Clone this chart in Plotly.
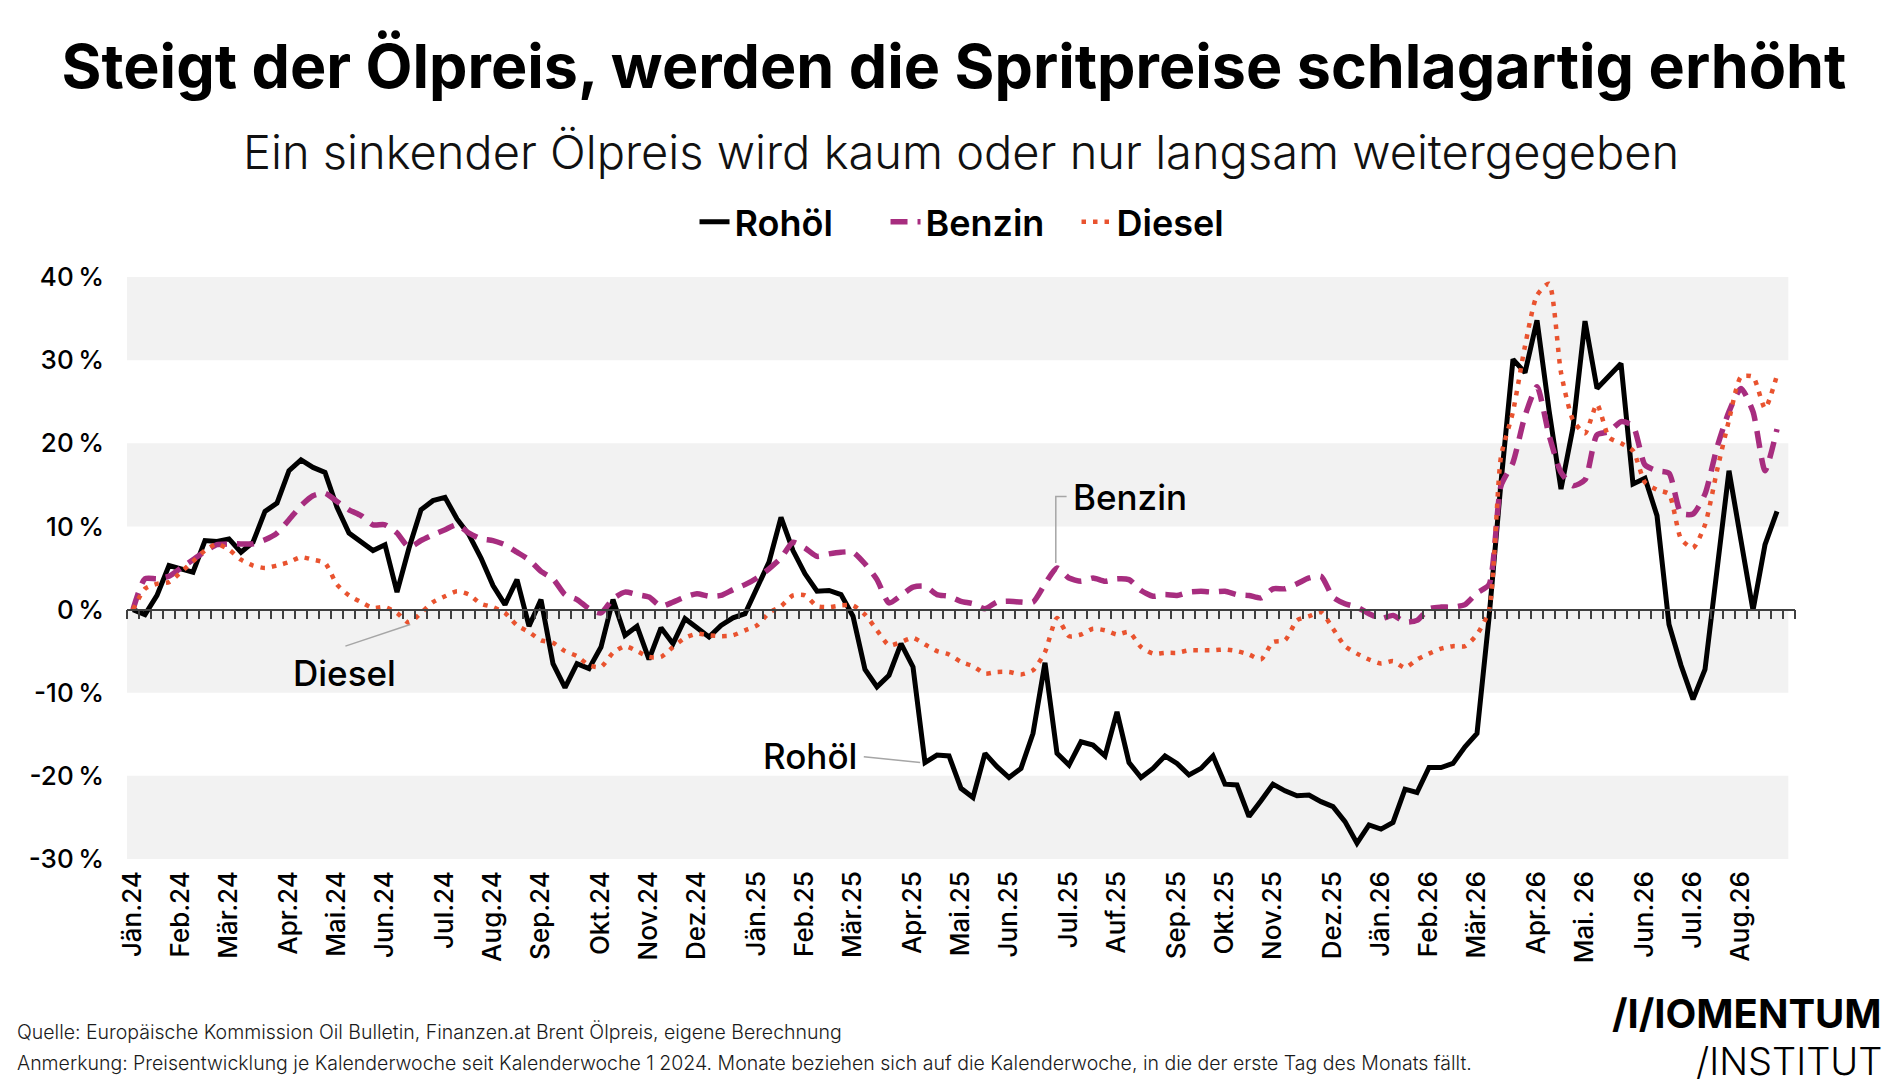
import datetime as dt
import plotly.graph_objects as go

# Preisentwicklung seit KW 1 2024 in Prozent (wöchentlich)
rohoel = [
    0.0, -0.6, 1.7, 5.3, 4.9, 4.5, 8.3, 8.2, 8.5, 6.9,
    8.1, 11.8, 12.8, 16.7, 18.0, 17.1, 16.5, 12.3, 9.2, 8.2,
    7.1, 7.8, 2.1, 7.4, 12.0, 13.1, 13.5, 10.9, 9.0, 6.2,
    2.9, 0.6, 3.6, -2.0, 1.2, -6.5, -9.4, -6.5, -7.1, -4.5,
    1.2, -3.1, -2.0, -6.0, -2.2, -4.1, -1.1, -2.2, -3.3, -1.9,
    -1.0, -0.5, 2.7, 5.7, 11.1, 7.1, 4.3, 2.2, 2.3, 1.8,
    -0.8, -7.2, -9.3, -7.9, -4.1, -6.9, -18.4, -17.5, -17.6, -21.5,
    -22.6, -17.3, -18.9, -20.2, -19.1, -14.9, -6.4, -17.3, -18.7, -15.9,
    -16.3, -17.6, -12.3, -18.4, -20.2, -19.1, -17.6, -18.5, -19.9, -19.1,
    -17.6, -21.0, -21.1, -24.9, -23.0, -21.0, -21.8, -22.4, -22.3, -23.1,
    -23.7, -25.5, -28.1, -25.9, -26.4, -25.6, -21.6, -22.0, -19.0, -19.0,
    -18.5, -16.5, -14.9, -1.0, 15.3, 30.1, 28.5, 34.8, 24.0, 14.5,
    21.9, 34.7, 26.6, 28.1, 29.6, 15.1, 15.8, 11.3, -1.8, -6.7,
    -10.8, -7.2, 4.5, 16.7, 8.3, -0.1, 7.8, 11.8,
]
benzin = [
    0.0, 3.7, 3.7, 4.0, 5.0, 6.0, 7.0, 7.8, 7.9, 7.9,
    7.9, 8.4, 9.2, 10.8, 12.5, 13.7, 14.0, 13.0, 12.0, 11.3,
    10.2, 10.2, 9.2, 7.5, 8.3, 9.0, 9.6, 10.2, 9.2, 8.5,
    8.3, 7.8, 6.9, 6.0, 4.6, 3.7, 1.8, 1.2, 0.1, -0.4,
    1.3, 2.1, 1.8, 1.5, 0.4, 0.9, 1.5, 1.9, 1.6, 1.7,
    2.4, 3.0, 3.8, 4.9, 6.2, 8.1, 7.4, 6.4, 6.7, 6.9,
    6.9, 5.5, 3.6, 0.8, 1.7, 2.7, 2.8, 1.8, 1.6, 1.0,
    0.7, 0.1, 0.9, 1.0, 0.9, 0.9, 3.1, 5.0, 3.8, 3.4,
    3.8, 3.4, 3.7, 3.6, 2.3, 1.6, 1.8, 1.7, 2.1, 2.2,
    2.1, 2.2, 1.8, 1.7, 1.4, 2.5, 2.5, 3.1, 3.8, 4.0,
    1.5, 0.7, 0.3, -0.5, -1.1, -0.7, -1.5, -1.3, 0.1, 0.3,
    0.3, 0.6, 2.0, 3.0, 14.9, 17.7, 23.3, 26.8, 21.0, 16.5,
    14.9, 15.6, 21.0, 21.4, 22.6, 22.1, 17.4, 16.7, 16.4, 11.6,
    11.5, 13.9, 19.5, 23.8, 26.6, 23.8, 16.7, 21.7,
]
diesel = [
    0.0, 2.5, 3.1, 3.3, 4.5, 5.8, 7.1, 7.9, 7.2, 6.0,
    5.3, 5.0, 5.3, 5.7, 6.3, 6.0, 5.6, 3.0, 1.7, 0.9,
    0.2, 0.3, -0.4, -1.6, -0.4, 0.9, 1.6, 2.2, 1.8, 0.7,
    0.3, -0.4, -1.9, -2.7, -3.7, -4.0, -5.0, -5.6, -6.7, -6.9,
    -5.2, -4.4, -5.0, -5.7, -5.7, -4.5, -3.4, -2.9, -3.1, -3.2,
    -3.1, -2.5, -1.9, -0.4, 0.4, 1.7, 1.7, 0.4, 0.3, 0.5,
    0.5, -0.6, -2.5, -4.3, -3.9, -3.4, -4.2, -5.0, -5.4, -6.3,
    -6.8, -7.7, -7.5, -7.5, -7.8, -7.3, -5.1, -1.0, -3.2, -3.0,
    -2.3, -2.5, -3.0, -2.7, -4.5, -5.3, -5.2, -5.2, -4.9, -4.9,
    -4.9, -4.8, -5.0, -5.4, -6.0, -3.9, -3.7, -1.3, -0.8, -0.3,
    -2.3, -4.4, -5.3, -6.0, -6.5, -6.2, -7.0, -6.0, -5.3, -4.7,
    -4.4, -4.4, -3.0, -0.1, 18.4, 23.8, 31.7, 37.8, 39.2, 28.5,
    22.8, 21.2, 24.7, 20.7, 20.0, 19.1, 15.3, 14.4, 13.9, 8.5,
    7.4, 10.2, 16.7, 22.8, 28.0, 28.0, 24.2, 28.2,
]

monat_text = [
    "Jän.24", "Feb.24", "Mär.24", "Apr.24", "Mai.24", "Jun.24", "Jul.24", "Aug.24",
    "Sep.24", "Okt.24", "Nov.24", "Dez.24",
    "Jän.25", "Feb.25", "Mär.25", "Apr.25", "Mai.25", "Jun.25", "Jul.25", "Auf.25",
    "Sep.25", "Okt.25", "Nov.25", "Dez.25",
    "Jän.26", "Feb.26", "Mär.26", "Apr.26", "Mai. 26", "Jun.26", "Jul.26", "Aug.26",
]
monat_jahr = [2024] * 12 + [2025] * 12 + [2026] * 8
monat_nr = list(range(1, 13)) * 2 + list(range(1, 9))

y_ticks = [-30, -20, -10, 0, 10, 20, 30, 40]


def kw_label(d):
    jahr, woche, _ = d.isocalendar()
    return f"KW{woche} {jahr}"


start = dt.date(2024, 1, 1)
wochen = [kw_label(start + dt.timedelta(weeks=k)) for k in range(len(rohoel))]
monat_wochen = [kw_label(dt.date(j, m, 1)) for j, m in zip(monat_jahr, monat_nr)]

FONT = "Inter"
n_kat = len(wochen) + 1

fig = go.Figure()

fig.add_trace(go.Scatter(
    x=wochen, y=rohoel, name="Rohöl", mode="lines",
    line=dict(color="#000000", width=5),
))
fig.add_trace(go.Scatter(
    x=wochen, y=benzin, name="Benzin", mode="lines",
    line=dict(color="#a72d7f", width=5.5, dash="17px,10px", shape="spline", smoothing=0.6),
))
fig.add_trace(go.Scatter(
    x=wochen, y=diesel, name="Diesel", mode="lines",
    line=dict(color="#e9532f", width=4.5, dash="4.5px,7px", shape="spline", smoothing=0.6),
))
# Hilfsspur für die Achse mit den Wochen-Strichen auf der Nulllinie
fig.add_trace(go.Scatter(
    x=[0], y=[0], xaxis="x2", mode="none", showlegend=False, hoverinfo="skip",
))

# graue Bänder
for lo, hi in [(30, 40), (10, 20), (-10, 0), (-30, -20)]:
    fig.add_shape(type="rect", xref="paper", yref="y", x0=0, x1=0.996, y0=lo, y1=hi,
                  fillcolor="#f2f2f2", line_width=0, layer="below")

# Beschriftungen im Diagramm mit Hinweislinien
leader = dict(color="#a6a6a6", width=1.5)
fig.add_shape(type="path", xref="x", yref="y",
              path="M 76.9 5.6 L 76.9 13.6 L 77.8 13.6", line=leader)
fig.add_shape(type="line", xref="x", yref="y", x0=17.7, y0=-4.4, x1=23.1, y1=-1.8, line=leader)
fig.add_shape(type="line", xref="x", yref="y", x0=60.9, y0=-17.7, x1=65.6, y1=-18.4, line=leader)

label_font = dict(family=FONT, size=35, color="#000000", weight=500)
fig.add_annotation(x=78.2, y=13.5, xref="x", yref="y", text="Benzin", showarrow=False,
                   xanchor="left", yanchor="middle", font=label_font)
fig.add_annotation(x=17.6, y=-7.6, xref="x", yref="y", text="Diesel", showarrow=False,
                   xanchor="center", yanchor="middle", font=label_font)
fig.add_annotation(x=60.5, y=-17.6, xref="x", yref="y", text="Rohöl", showarrow=False,
                   xanchor="right", yanchor="middle", font=label_font)

# Untertitel, Fußnoten, Logo
fig.add_annotation(x=0.5, y=1.2156, xref="paper", yref="paper", showarrow=False,
                   text="Ein sinkender Ölpreis wird kaum oder nur langsam weitergegeben",
                   font=dict(family=FONT, size=47, color="#111111", weight=300),
                   xanchor="center", yanchor="middle")
fig.add_annotation(x=-0.0674, y=-0.2979, xref="paper", yref="paper", showarrow=False,
                   text="Quelle: Europäische Kommission Oil Bulletin, Finanzen.at Brent Ölpreis, eigene Berechnung",
                   font=dict(family=FONT, size=19.5, color="#1a1a1a", weight=300),
                   xanchor="left", yanchor="middle")
fig.add_annotation(x=-0.0674, y=-0.350, xref="paper", yref="paper", showarrow=False,
                   text="Anmerkung: Preisentwicklung je Kalenderwoche seit Kalenderwoche 1 2024. "
                        "Monate beziehen sich auf die Kalenderwoche, in die der erste Tag des Monats fällt.",
                   font=dict(family=FONT, size=19.5, color="#1a1a1a", weight=300),
                   xanchor="left", yanchor="middle")
fig.add_annotation(x=1.0534, y=-0.2663, xref="paper", yref="paper", showarrow=False,
                   text="/I/IOMENTUM",
                   font=dict(family=FONT, size=40, color="#000000", weight=700),
                   xanchor="right", yanchor="middle")
fig.add_annotation(x=1.0534, y=-0.3471, xref="paper", yref="paper", showarrow=False,
                   text="/INSTITUT",
                   font=dict(family=FONT, size=38, color="#000000", weight=300),
                   xanchor="right", yanchor="middle")

# Die HTML-Seite hat 8 px Rand, daher ist die Figur um 8 px kleiner
fig.update_layout(
    width=1892, height=1077,
    paper_bgcolor="white", plot_bgcolor="white",
    margin=dict(l=119, r=105, t=269, b=226),
    font=dict(family=FONT, color="#000000"),
    title=dict(
        text="Steigt der Ölpreis, werden die Spritpreise schlagartig erhöht",
        x=0.5, xref="container", xanchor="center",
        y=1 - 58.6 / 1077, yref="container", yanchor="middle",
        font=dict(family=FONT, size=61, color="#000000", weight=700),
    ),
    legend=dict(
        orientation="h", x=0.512, xanchor="center", y=1.0948, yanchor="middle",
        font=dict(family=FONT, size=36, color="#000000", weight=600),
        entrywidth=146, entrywidthmode="pixels", bgcolor="rgba(0,0,0,0)",
    ),
    showlegend=True,
    xaxis=dict(
        type="category", categoryorder="array", categoryarray=wochen,
        range=[-0.5, n_kat - 0.5],
        tickmode="array", tickvals=monat_wochen, ticktext=monat_text,
        tickangle=-90, ticks="", showline=False, showgrid=False, zeroline=False,
        tickfont=dict(family=FONT, size=26, color="#000000", weight=500),
        ticklabelstandoff=6,
    ),
    xaxis2=dict(
        overlaying="x", anchor="free", position=30 / 70, side="bottom",
        range=[-0.5, n_kat - 0.5], showgrid=False, zeroline=False,
        showline=True, linecolor="#404040", linewidth=1.5,
        tickmode="linear", tick0=-0.5, dtick=1,
        ticks="outside", ticklen=9, tickwidth=1.5, tickcolor="#404040",
        showticklabels=False,
    ),
    yaxis=dict(
        range=[-30, 40], tickmode="array", tickvals=y_ticks,
        ticktext=[f"{v}\u2009%" for v in y_ticks],
        showgrid=False, zeroline=False, showline=False, ticks="",
        tickfont=dict(family=FONT, size=26, color="#000000", weight=500),
        ticklabelstandoff=22,
    ),
)

fig.write_html("out.html")
